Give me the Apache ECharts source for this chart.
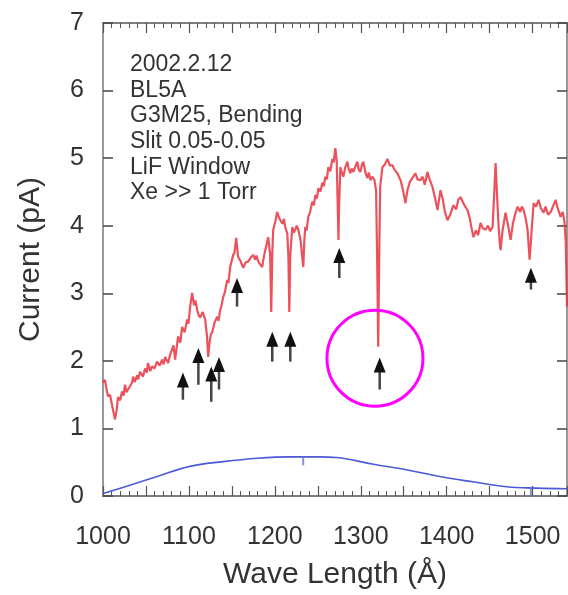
<!DOCTYPE html>
<html><head><meta charset="utf-8">
<script src="https://cdn.jsdelivr.net/npm/echarts@6/dist/echarts.min.js"></script>
<style>html,body{margin:0;padding:0;background:#fff}.layer{position:absolute;left:0;top:0;width:568px;height:595px}</style>
</head><body><div class="layer" id="axes"></div><div class="layer" id="c"></div><script>
// Red spectrum (Xe gas, LiF window)
var redWave = [1000,1002.3,1004,1005.8,1008.2,1011,1014,1016,1017.5,1020,1022.1,1024,1025.6,1027.5,1029.1,1031.5,1033.8,1035,1037,1039.6,1041,1043.1,1046.6,1049,1051,1052.4,1055,1057.1,1060,1062.9,1066,1068.8,1070.5,1072.3,1075.8,1078,1080.4,1082,1083.9,1085.5,1087.4,1090,1092.1,1095,1097.9,1099.5,1101.4,1103.7,1106,1107.5,1109.6,1111.5,1113.1,1116,1118.9,1121,1122.4,1124,1125.5,1127,1130,1132.9,1134.5,1136.4,1138,1139.9,1142,1144.5,1146,1148,1151.5,1153,1155,1157.3,1160,1163.2,1166,1169,1172,1174.8,1177,1178.5,1180.7,1183,1185.3,1187,1188.8,1190.5,1192.3,1194.5,1195.8,1197,1198.1,1200.5,1202.8,1204.5,1206.3,1209,1210.5,1212.1,1214.5,1215.8,1216.8,1218,1220.3,1222,1223.8,1225.5,1227.3,1230,1232,1233.1,1234.3,1235.4,1237,1238.9,1241,1243.6,1245.5,1247.1,1249,1250.6,1253,1255.2,1257,1258.7,1260.5,1262.2,1264.5,1266.9,1268.5,1270.4,1272,1273.2,1274,1275,1276.3,1277.4,1279.7,1282,1284.4,1286,1287.9,1289.5,1291.4,1294,1296,1297.5,1299.5,1301.5,1303,1305.5,1307.7,1309.5,1311.2,1313.5,1315.9,1317.8,1319,1320.3,1321.5,1322.6,1325.2,1328,1331,1334,1336.8,1338.5,1340.3,1343,1346.2,1349,1352,1354.3,1357,1360,1363.6,1366,1369.5,1372,1374.5,1377.6,1380,1383.4,1386,1389.3,1392.8,1395.5,1398,1400.9,1404,1407.9,1411,1413.5,1416.1,1419,1421.5,1424.2,1427,1429,1431.2,1434,1436.5,1439.4,1442,1445.2,1448,1450.5,1453.4,1455.3,1456.9,1458.3,1460,1461.5,1462.7,1465,1468.5,1471,1474.4,1477,1479.5,1482.5,1485.5,1487.5,1489.5,1492,1494.1,1496.5,1498.9,1501.2,1504,1507,1509.5,1512.8,1515,1518,1521,1523.5,1526.8,1529,1532.6,1535,1537,1538.5,1540];
var redCurrent = [1.71,1.75,1.62,1.51,1.53,1.35,1.17,1.32,1.50,1.45,1.58,1.52,1.68,1.57,1.61,1.66,1.71,1.80,1.72,1.82,1.76,1.87,1.80,1.92,1.86,2.00,1.88,1.95,1.92,2.02,1.96,2.05,1.98,2.09,2.00,2.12,2.20,2.26,2.05,2.20,2.39,2.30,2.53,2.45,2.64,2.58,2.83,3.03,2.85,2.92,2.78,2.70,2.67,2.75,2.64,2.40,2.09,2.30,2.42,2.45,2.60,2.68,2.62,2.78,2.85,2.97,3.05,3.22,3.18,3.41,3.59,3.62,3.84,3.56,3.50,3.40,3.48,3.49,3.55,3.59,3.52,3.58,3.49,3.45,3.41,3.55,3.66,3.75,3.85,3.60,2.75,3.60,3.96,4.08,4.22,4.15,4.10,4.05,4.12,4.00,3.90,3.55,2.75,3.60,4.00,3.92,3.96,4.02,3.96,3.80,3.55,3.41,3.80,4.00,3.95,4.15,4.22,4.37,4.32,4.47,4.42,4.57,4.52,4.65,4.60,4.74,4.70,4.88,4.82,5.00,4.95,5.16,4.96,4.30,3.81,4.40,4.88,4.82,4.74,4.88,4.96,4.85,4.79,4.86,4.81,4.90,4.96,4.85,4.81,4.92,4.96,4.80,4.72,4.80,4.69,4.74,4.69,4.54,3.60,2.24,3.60,4.60,4.88,4.92,5.00,4.90,4.91,4.86,4.88,4.78,4.69,4.55,4.35,4.54,4.66,4.72,4.79,4.70,4.69,4.74,4.62,4.81,4.70,4.59,4.45,4.25,4.54,4.40,4.22,4.10,4.18,4.32,4.26,4.40,4.44,4.36,4.30,4.25,4.12,3.98,3.85,3.95,3.88,4.06,3.98,3.96,4.02,3.94,4.00,4.50,4.94,4.55,4.10,3.80,3.66,3.95,4.21,4.05,3.81,4.05,4.18,4.30,4.22,4.30,4.25,4.12,3.96,3.52,3.96,4.35,4.30,4.40,4.28,4.21,4.30,4.18,4.22,4.30,4.40,4.28,4.15,4.22,4.08,3.80,2.83];
// Blue background curve
var blueWave = [1000,1023,1063,1101,1140,1180,1218,1250,1272,1315,1353,1392,1432,1470,1505,1540];
var blueCurrent = [0.08,0.17,0.33,0.48,0.55,0.60,0.62,0.62,0.61,0.51,0.43,0.33,0.25,0.18,0.16,0.15];
var blueMarkWave = [1233,1498];
var blueMarkCurrent = [0.62,0.16];
// Arrows: wavelength, tip current, tail current
var arrowWave = [1093,1111,1126,1135,1156,1197,1218,1275,1322,1498];
var arrowTip  = [1.86,2.22,1.95,2.09,3.25,2.46,2.46,3.69,2.08,3.40];
var arrowTail = [1.46,1.68,1.43,1.61,2.83,2.02,2.02,3.25,1.61,3.08];
// Highlight circle centre
var circleCenter = [1316.5, 2.07];
// Notes
var noteLines = ['2002.2.12','BL5A','G3M25, Bending','Slit 0.05-0.05','LiF Window','Xe >> 1 Torr'];
var xMin = 1000, xMax = 1540, yMin = 0, yMax = 7;

var FONT = '"Liberation Sans", Arial, Helvetica, sans-serif';
var GRID = {left:103, right:1, top:23, bottom:96};
function zip(a,b){return a.map(function(v,i){return [v,b[i]];});}
var arrowData = arrowWave.map(function(v,i){return [v, arrowTip[i], arrowTail[i]];});

function xAxisOpt(pos){
  var o = {
    type:'value', min:xMin, max:xMax, interval:50, position:pos,
    axisLine:{show:true, onZero:false, lineStyle:{color:'#555', width:1.5}},
    axisTick:{show:true, inside:true, length:10, lineStyle:{color:'#555', width:1.2}},
    minorTick:{show:true, splitNumber:5, length:5, lineStyle:{color:'#555', width:1}},
    splitLine:{show:false}, minorSplitLine:{show:false}
  };
  if (pos === 'bottom') {
    o.name = 'Wave Length (Å)'; o.nameLocation = 'middle'; o.nameGap = 64;
    o.nameTextStyle = {fontFamily:FONT, fontSize:30, color:'#333'};
    o.axisLabel = {show:true, margin:29, fontFamily:FONT, fontSize:25, color:'#333', showMaxLabel:false,
      formatter:function(v){return (v % 100 === 0) ? String(v) : '';}};
  } else {
    o.axisLabel = {show:false};
  }
  return o;
}
function yAxisOpt(pos){
  var o = {
    type:'value', min:yMin, max:yMax, interval:1, position:pos,
    axisLine:{show:true, onZero:false, lineStyle:{color:'#999', width:2}},
    axisTick:{show:true, inside:true, length:10, lineStyle:{color:'#444', width:1.5}},
    splitLine:{show:false}
  };
  if (pos === 'left') {
    o.name = 'Current (pA)'; o.nameLocation = 'middle'; o.nameGap = 57;
    o.nameTextStyle = {fontFamily:FONT, fontSize:30, color:'#333'};
    o.axisLabel = {show:true, margin:19, fontFamily:FONT, fontSize:25, color:'#333'};
  } else {
    o.axisLabel = {show:false};
  }
  return o;
}

// Layer 1: frame, ticks and axis texts
var axesChart = echarts.init(document.getElementById('axes'), null, {renderer:'canvas'});
axesChart.setOption({
  animation:false,
  backgroundColor:'#fff',
  grid:GRID,
  xAxis:[xAxisOpt('bottom'), xAxisOpt('top')],
  yAxis:[yAxisOpt('left'), yAxisOpt('right')],
  series:[{type:'line', data:[], showSymbol:false}]
});

// Layer 2: data marks and notes on identical scales
var hidden = {axisLine:{show:false}, axisTick:{show:false}, axisLabel:{show:false}, splitLine:{show:false}};
var chart = echarts.init(document.getElementById('c'), null, {renderer:'canvas'});
chart.setOption({
  animation:false,
  backgroundColor:'transparent',
  title:{text:noteLines.join('\n'), left:130, top:52, padding:0,
    textStyle:{fontFamily:FONT, fontSize:23, fontWeight:'normal', color:'#333', lineHeight:25.6}},
  grid:GRID,
  xAxis:Object.assign({type:'value', min:xMin, max:xMax}, hidden),
  yAxis:Object.assign({type:'value', min:yMin, max:yMax}, hidden),
  series:[
    {type:'line', data:zip(redWave, redCurrent), showSymbol:false, symbol:'none',
     lineStyle:{color:'rgba(232,52,64,0.85)', width:2.2}, clip:true, z:3},
    {type:'line', data:zip(blueWave, blueCurrent), smooth:0.4, showSymbol:false, symbol:'none',
     lineStyle:{color:'#4a5ad8', width:1.6}, clip:true, z:3},
    {type:'scatter', data:zip(blueMarkWave, blueMarkCurrent), symbol:'rect', symbolSize:[2,9], symbolOffset:[0,4],
     itemStyle:{color:'#6a78d8'}, z:3},
    {type:'custom', data:arrowData, encode:{x:0, y:[1,2]}, z:5,
     renderItem:function(params, api){
       var tip = api.coord([api.value(0), api.value(1)]);
       var bot = api.coord([api.value(0), api.value(2)]);
       var hw = 6, hh = 15;
       return {type:'group', children:[
         {type:'line', shape:{x1:tip[0], y1:tip[1]+hh-2, x2:bot[0], y2:bot[1]}, style:{stroke:'#444', lineWidth:2.5}},
         {type:'polygon', shape:{points:[[tip[0],tip[1]],[tip[0]-hw,tip[1]+hh],[tip[0]+hw,tip[1]+hh]]}, style:{fill:'#111'}}
       ]};
     }},
    {type:'custom', data:[circleCenter], encode:{x:0, y:1}, z:6,
     renderItem:function(params, api){
       var c = api.coord([api.value(0), api.value(1)]);
       return {type:'circle', shape:{cx:c[0], cy:c[1], r:48}, style:{fill:null, stroke:'#ff00ff', lineWidth:3}};
     }}
  ]
});
</script></body></html>
